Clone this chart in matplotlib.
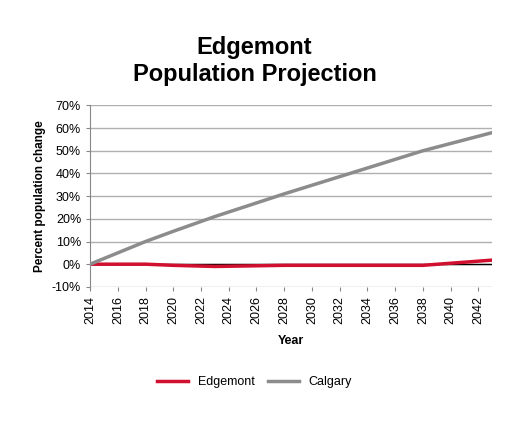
import matplotlib
matplotlib.use("Agg")
import matplotlib.pyplot as plt

years = [2014, 2018, 2020, 2023, 2028, 2033, 2038, 2043]
edgemont = [0.0, 0.0, -0.5, -1.0, -0.5, -0.5, -0.5, 1.8]
calgary = [0.0, 10.0, 14.5, 21.0, 31.0, 40.5, 50.0, 58.0]

plt.rcParams['font.family'] = ['Liberation Sans', 'DejaVu Sans']
fig = plt.figure(figsize=(5.09, 4.25), dpi=100)
ax = fig.add_axes([0.177, 0.325, 0.79, 0.427])

ax.plot(years, edgemont, color='#d0102e', lw=2.5, label='Edgemont', zorder=3)
ax.plot(years, calgary, color='#8c8c8c', lw=2.5, label='Calgary', zorder=3)
ax.axhline(0, color='black', lw=1, zorder=2)

ax.set_xlim(2014, 2043)
ax.set_ylim(-10, 70)
ax.set_yticks(range(-10, 71, 10))
ax.set_yticklabels([f"{v}%" for v in range(-10, 71, 10)], fontsize=9)
ax.set_xticks(range(2014, 2043, 2))
ax.set_xticklabels([str(y) for y in range(2014, 2043, 2)], rotation=90, fontsize=9)
ax.yaxis.grid(True, color='#b0b0b0', lw=1)
ax.set_axisbelow(True)
for s in ['top', 'right']:
    ax.spines[s].set_visible(False)
ax.spines['left'].set_color('#888888')
ax.spines['bottom'].set_visible(False)
ax.tick_params(length=3, color='#888888')

ax.set_xlabel('Year', fontsize=9, fontweight='bold', labelpad=8)
ax.set_ylabel('Percent population change', fontsize=8.5, fontweight='bold')
fig.suptitle('Edgemont\nPopulation Projection', fontsize=17, fontweight='bold', y=0.915)
fig.legend(loc='lower center', bbox_to_anchor=(0.5, 0.06), ncol=2, frameon=False,
           fontsize=9, handlelength=2.5, columnspacing=1.0)
fig.savefig('out.png', dpi=100)
